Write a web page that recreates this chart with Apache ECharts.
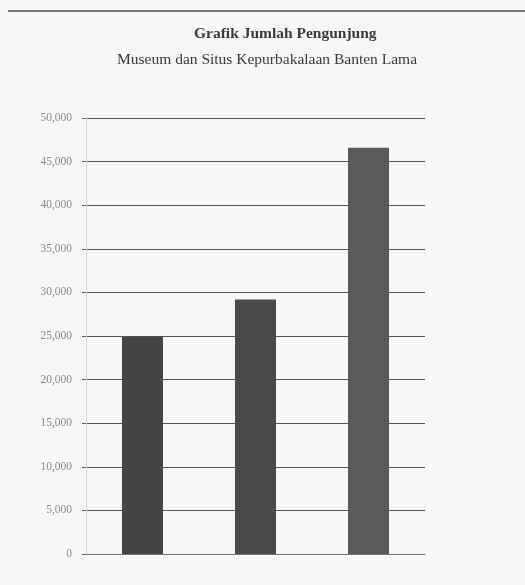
<!DOCTYPE html>
<html>
<head>
<meta charset="utf-8">
<script src="https://cdn.jsdelivr.net/npm/echarts@6/dist/echarts.min.js"></script>
<style>
  html, body { margin: 0; padding: 0; background: #f6f7f7; }
  #chart { width: 525px; height: 585px; }
</style>
</head>
<body>
<div id="chart"></div>
<script>
var chart = echarts.init(document.getElementById('chart'));

// data
var tahun = ['2007', '2008', '2009'];
var pengunjung = [24900, 29200, 46600];
var yTicks = [0, 5000, 10000, 15000, 20000, 25000, 30000, 35000, 40000, 45000, 50000];

var barColors = ['#454545', '#4a4a4a', '#5a5a5a'];

var option = {
    backgroundColor: '#f6f7f7',
    animation: false,
    title: [
        {
            text: 'Grafik Jumlah Pengunjung',
            left: 189,
            top: 21,
            textStyle: {
                fontFamily: 'Liberation Serif',
                fontSize: 15.5,
                fontWeight: 'bold',
                color: '#3a3a3a'
            }
        },
        {
            text: 'Museum dan Situs Kepurbakalaan Banten Lama',
            left: 112,
            top: 47,
            textStyle: {
                fontFamily: 'Liberation Serif',
                fontSize: 15.5,
                fontWeight: 'normal',
                color: '#3a3a3a'
            }
        }
    ],
    graphic: [
        {
            type: 'line',
            shape: { x1: 8, y1: 11, x2: 525, y2: 11 },
            style: { stroke: '#777', lineWidth: 2 }
        }
    ],
    grid: {
        left: 86,
        right: 100,
        top: 118,
        bottom: 31
    },
    xAxis: {
        type: 'category',
        data: tahun,
        axisLine: {
            show: true,
            lineStyle: { color: '#777', width: 1 }
        },
        axisTick: { show: false },
        axisLabel: { show: false }
    },
    yAxis: {
        type: 'value',
        min: yTicks[0],
        max: yTicks[yTicks.length - 1],
        interval: 5000,
        axisLine: {
            show: true,
            lineStyle: { color: '#d4d4d4', width: 1 }
        },
        axisTick: {
            show: true,
            length: 4,
            lineStyle: { color: '#666' }
        },
        axisLabel: {
            color: '#8a8a8a',
            fontFamily: 'Liberation Serif',
            fontSize: 11.5,
            margin: 14,
            formatter: function (v) {
                return v.toLocaleString('en-US');
            }
        },
        splitLine: {
            show: true,
            lineStyle: { color: '#555', width: 1 }
        }
    },
    series: [
        {
            type: 'bar',
            barWidth: 41,
            data: pengunjung.map(function (v, i) {
                return { value: v, itemStyle: { color: barColors[i] } };
            })
        }
    ]
};

chart.setOption(option);
</script>
</body>
</html>
